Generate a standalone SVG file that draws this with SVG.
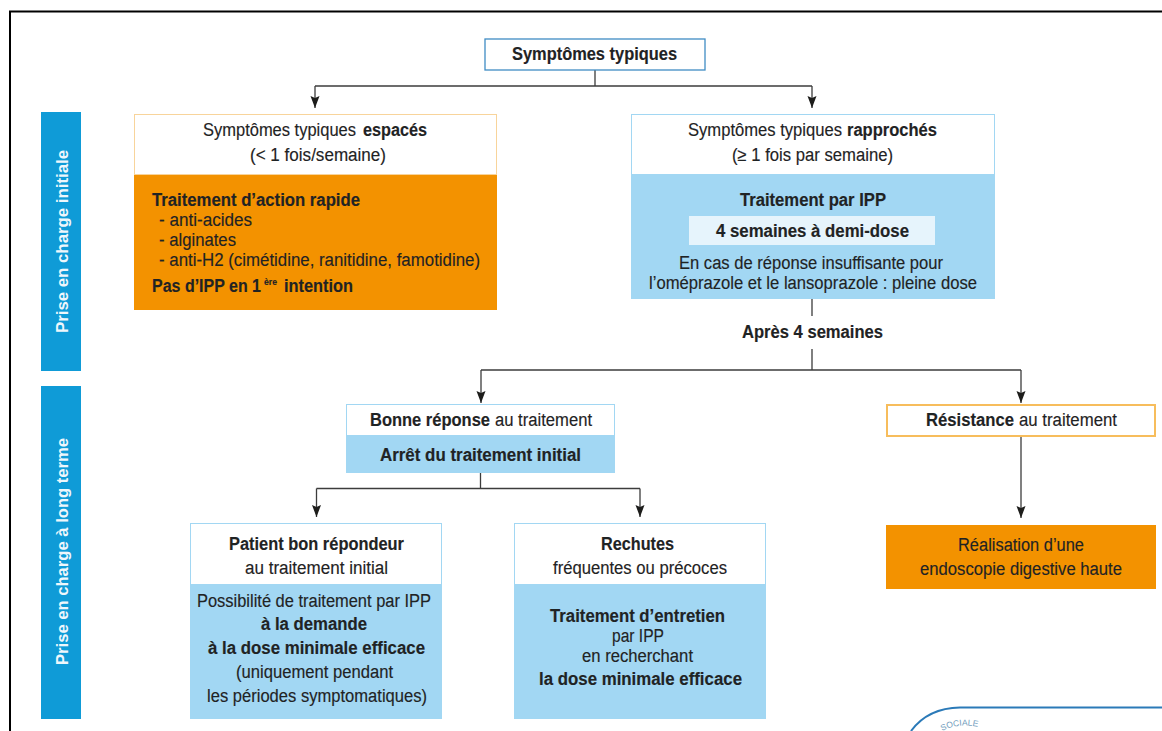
<svg xmlns="http://www.w3.org/2000/svg" width="1162" height="731" viewBox="0 0 1162 731">
<style>
text{font-family:"Liberation Sans",Arial,sans-serif;font-size:18px;fill:#1f2324;text-anchor:start;stroke:#1f2324;stroke-width:.15}
.b{font-weight:700}
.c{fill:none;stroke:#3c3c3c;stroke-width:1.300}
.side{fill:#0f9bd7}
text.st{fill:#eef7fc;stroke:none;font-weight:700;font-size:17px}
.lb{fill:#a2d7f3}
.or{fill:#f39200}
</style>
<defs>
<marker id="d" markerUnits="userSpaceOnUse" markerWidth="10" markerHeight="14" refX="5" refY="13" orient="0" viewBox="0 0 10 14"><path d="M0.500 1 L5 3 L9.500 1 L5 13Z" fill="#1d1d1b"/></marker>
<path id="arc" d="M942 731Q962 721 985 729"/>
</defs>
<rect width="1162" height="731" fill="#fff"/>
<path d="M10 731V11.500H1162" fill="none" stroke="#000" stroke-width="2"/>
<g id="connectors">
<path class="c" d="M595 70V86M315 86H812"/>
<path class="c" d="M315 86V108" marker-end="url(#d)"/>
<path class="c" d="M812 86V108" marker-end="url(#d)"/>
<path class="c" d="M812 299V316M812 349V370M481 370H1021"/>
<path class="c" d="M481 370V403" marker-end="url(#d)"/>
<path class="c" d="M1021 370V403" marker-end="url(#d)"/>
<path class="c" d="M480.500 473V488.500M316.500 488.500H640"/>
<path class="c" d="M316.500 488.500V517" marker-end="url(#d)"/>
<path class="c" d="M640 488.500V517" marker-end="url(#d)"/>
<path class="c" d="M1021 437V518" marker-end="url(#d)"/>
</g>
<g id="side-initiale"><rect class="side" x="41" y="112" width="40" height="259"/><text class="st" textLength="183" lengthAdjust="spacingAndGlyphs" transform="translate(68 333) rotate(-90)">Prise en charge initiale</text></g>
<g id="side-long"><rect class="side" x="41" y="386" width="40" height="333"/><text class="st" textLength="227" lengthAdjust="spacingAndGlyphs" transform="translate(68 665) rotate(-90)">Prise en charge à long terme</text></g>
<g id="n-top"><rect x="485" y="39" width="220" height="31" fill="#fff" stroke="#3f8cc4" stroke-width="1.300"/><text class="b" x="512" y="60" textLength="165" lengthAdjust="spacingAndGlyphs">Symptômes typiques</text></g>
<g id="n-espaces">
<rect x="134.500" y="114.500" width="362" height="60" fill="#fff" stroke="#f8d49b"/>
<rect class="or" x="134" y="175" width="363" height="135"/>
<text x="203" y="136" textLength="153" lengthAdjust="spacingAndGlyphs">Symptômes typiques</text>
<text class="b" x="363" y="136" textLength="64" lengthAdjust="spacingAndGlyphs">espacés</text>
<text x="250" y="161" textLength="136" lengthAdjust="spacingAndGlyphs">(&lt; 1 fois/semaine)</text>
<text class="b" x="152" y="206" textLength="208" lengthAdjust="spacingAndGlyphs">Traitement d’action rapide</text>
<text x="159" y="226" textLength="93" lengthAdjust="spacingAndGlyphs">- anti-acides</text>
<text x="159" y="246" textLength="77" lengthAdjust="spacingAndGlyphs">- alginates</text>
<text x="159" y="266" textLength="321" lengthAdjust="spacingAndGlyphs">- anti-H2 (cimétidine, ranitidine, famotidine)</text>
<text class="b" x="152" y="292" textLength="109" lengthAdjust="spacingAndGlyphs">Pas d’IPP en 1</text>
<text class="b" x="264" y="285" textLength="13" lengthAdjust="spacingAndGlyphs" style="font-size:9px">ère</text>
<text class="b" x="284" y="292" textLength="69" lengthAdjust="spacingAndGlyphs">intention</text>
</g>
<g id="n-rapproches">
<rect x="631.500" y="114.500" width="363" height="60" fill="#fff" stroke="#a2d7f3"/>
<rect class="lb" x="631" y="175" width="364" height="124"/>
<text x="688" y="136" textLength="154" lengthAdjust="spacingAndGlyphs">Symptômes typiques</text>
<text class="b" x="847" y="136" textLength="90" lengthAdjust="spacingAndGlyphs">rapprochés</text>
<text x="732" y="161" textLength="161" lengthAdjust="spacingAndGlyphs">(≥ 1 fois par semaine)</text>
<text class="b" x="740" y="206" textLength="146" lengthAdjust="spacingAndGlyphs">Traitement par IPP</text>
<rect x="689" y="216" width="246" height="29" fill="#e6f4fc"/>
<text class="b" x="716" y="237" textLength="193" lengthAdjust="spacingAndGlyphs">4 semaines à demi-dose</text>
<text x="679" y="269" textLength="264" lengthAdjust="spacingAndGlyphs">En cas de réponse insuffisante pour</text>
<text x="649" y="289" textLength="328" lengthAdjust="spacingAndGlyphs">l’oméprazole et le lansoprazole : pleine dose</text>
</g>
<g id="l-apres"><text class="b" x="742" y="338" textLength="141" lengthAdjust="spacingAndGlyphs">Après 4 semaines</text></g>
<g id="n-bonne">
<rect x="346.500" y="404.500" width="268" height="31" fill="#fff" stroke="#a2d7f3"/>
<rect class="lb" x="346" y="436" width="269" height="37"/>
<text class="b" x="370" y="426" textLength="120" lengthAdjust="spacingAndGlyphs">Bonne réponse</text>
<text x="495" y="426" textLength="97" lengthAdjust="spacingAndGlyphs">au traitement</text>
<text class="b" x="380" y="461" textLength="201" lengthAdjust="spacingAndGlyphs">Arrêt du traitement initial</text>
</g>
<g id="n-resistance"><rect x="887" y="405" width="268" height="31" fill="#fff" stroke="#f7bd5c" stroke-width="2"/>
<text class="b" x="926" y="426" textLength="88" lengthAdjust="spacingAndGlyphs">Résistance</text>
<text x="1019" y="426" textLength="98" lengthAdjust="spacingAndGlyphs">au traitement</text></g>
<g id="n-bon-repondeur">
<rect x="190.500" y="523.500" width="251" height="61" fill="#fff" stroke="#a2d7f3"/>
<rect class="lb" x="190" y="585" width="252" height="134"/>
<text class="b" x="229" y="550" textLength="175" lengthAdjust="spacingAndGlyphs">Patient bon répondeur</text>
<text x="245" y="574" textLength="143" lengthAdjust="spacingAndGlyphs">au traitement initial</text>
<text x="197" y="607" textLength="234" lengthAdjust="spacingAndGlyphs">Possibilité de traitement par IPP</text>
<text class="b" x="261" y="630" textLength="106" lengthAdjust="spacingAndGlyphs">à la demande</text>
<text class="b" x="208" y="654" textLength="217" lengthAdjust="spacingAndGlyphs">à la dose minimale efficace</text>
<text x="236" y="678" textLength="157" lengthAdjust="spacingAndGlyphs">(uniquement pendant</text>
<text x="207" y="702" textLength="220" lengthAdjust="spacingAndGlyphs">les périodes symptomatiques)</text>
</g>
<g id="n-rechutes">
<rect x="514.500" y="523.500" width="251" height="61" fill="#fff" stroke="#a2d7f3"/>
<rect class="lb" x="514" y="585" width="252" height="134"/>
<text class="b" x="601" y="550" textLength="73" lengthAdjust="spacingAndGlyphs">Rechutes</text>
<text x="553" y="574" textLength="174" lengthAdjust="spacingAndGlyphs">fréquentes ou précoces</text>
<text class="b" x="550" y="622" textLength="175" lengthAdjust="spacingAndGlyphs">Traitement d’entretien</text>
<text x="612" y="642" textLength="52" lengthAdjust="spacingAndGlyphs">par IPP</text>
<text x="582" y="662" textLength="111" lengthAdjust="spacingAndGlyphs">en recherchant</text>
<text class="b" x="539" y="685" textLength="203" lengthAdjust="spacingAndGlyphs">la dose minimale efficace</text>
</g>
<g id="n-endoscopie"><rect class="or" x="886" y="525" width="270" height="64"/><text x="958" y="551" textLength="126" lengthAdjust="spacingAndGlyphs">Réalisation d’une</text><text x="920" y="575" textLength="202" lengthAdjust="spacingAndGlyphs">endoscopie digestive haute</text></g>
<g id="stamp"><path d="M911 731Q928 708 960 707.500H1162" fill="none" stroke="#2b7ab8" stroke-width="2"/>
<text style="font-size:8.500px;fill:#6f9bbb;stroke:none"><textPath href="#arc">SOCIALE</textPath></text></g>
</svg>
